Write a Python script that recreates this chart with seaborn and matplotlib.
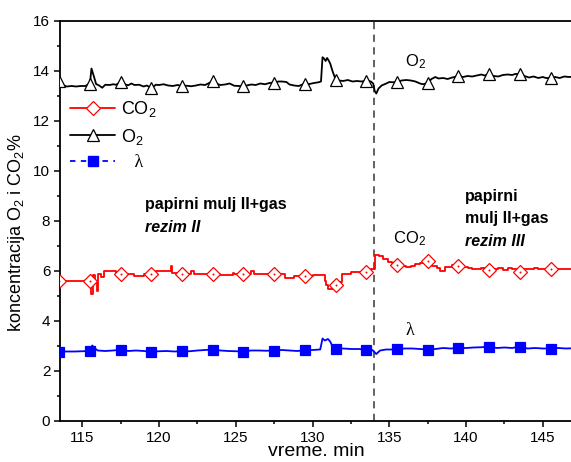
import matplotlib
matplotlib.use("Agg")
import matplotlib.pyplot as plt
from matplotlib.lines import Line2D
from matplotlib.ticker import MultipleLocator
import seaborn as sns

# Time axis (min) and measured concentrations
t_o2 = [113.5, 113.8, 114.0, 114.3, 114.6, 114.9, 115.2, 115.5, 115.6, 115.75,
        115.9, 116.1, 116.3, 116.5, 116.8, 117.0, 117.2, 117.5, 117.8, 118.0,
        118.2, 118.4, 118.7, 119.0, 119.2, 119.5, 119.8, 120.0, 120.3, 120.6,
        120.9, 121.2, 121.5, 121.8, 122.1, 122.4, 122.7, 123.0, 123.2, 123.5,
        123.8, 124.0, 124.3, 124.6, 124.9, 125.2, 125.5, 125.8, 126.0, 126.3,
        126.6, 126.9, 127.2, 127.5, 127.8, 128.0, 128.3, 128.5, 128.8, 129.1,
        129.5, 129.8, 130.1, 130.4, 130.55, 130.65, 130.75, 130.85, 130.95, 131.05,
        131.15, 131.3, 131.5, 131.7, 132.0, 132.3, 132.6, 132.9, 133.2, 133.5,
        133.8, 133.95, 134.05, 134.15, 134.3, 134.5, 134.8, 135.0, 135.2, 135.5,
        135.8, 136.1, 136.4, 136.7, 137.0, 137.2, 137.5, 137.75, 138.0, 138.2,
        138.5, 138.8, 139.1, 139.5, 139.8, 140.1, 140.4, 140.7, 141.0, 141.2,
        141.5, 141.8, 142.1, 142.4, 142.7, 143.0, 143.2, 143.5, 143.8, 144.1,
        144.4, 144.7, 145.0, 145.2, 145.5, 145.8, 146.1, 146.4, 146.7, 147.0]
o2 = [13.62, 13.42, 13.38, 13.40, 13.38, 13.40, 13.40, 13.50, 14.10, 13.80,
      13.48, 13.42, 13.33, 13.45, 13.44, 13.47, 13.45, 13.56, 13.46, 13.43,
      13.50, 13.44, 13.45, 13.38, 13.42, 13.32, 13.45, 13.44, 13.47, 13.42,
      13.40, 13.44, 13.40, 13.41, 13.39, 13.42, 13.46, 13.44, 13.50, 13.60,
      13.48, 13.44, 13.46, 13.50, 13.41, 13.40, 13.40, 13.43, 13.46, 13.44,
      13.50, 13.47, 13.52, 13.54, 13.58, 13.58, 13.56, 13.46, 13.42, 13.40,
      13.50, 13.48, 13.52, 13.55, 13.58, 14.55, 14.50, 14.40, 14.52, 14.42,
      14.30, 14.00, 13.66, 13.62, 13.60, 13.64, 13.58, 13.60, 13.58, 13.62,
      13.58, 13.50, 13.20, 13.10, 13.30, 13.42, 13.50, 13.56, 13.55, 13.56,
      13.62, 13.64, 13.62, 13.58, 13.50, 13.47, 13.52, 13.68, 13.76, 13.70,
      13.72, 13.68, 13.74, 13.80, 13.76, 13.80, 13.78, 13.82, 13.86, 13.82,
      13.88, 13.80, 13.78, 13.84, 13.86, 13.84, 13.88, 13.88, 13.80, 13.74,
      13.78, 13.72, 13.76, 13.72, 13.72, 13.76, 13.72, 13.78, 13.76, 13.77]

t_co2 = [113.5, 115.5, 115.6, 115.7, 115.8, 115.95, 116.05, 116.2, 116.4, 117.0,
         117.2, 117.5, 118.0, 118.4, 119.0, 119.5, 119.8, 120.7, 120.75, 120.85,
         121.5, 122.0, 122.1, 122.3, 123.0, 123.5, 124.0, 124.8, 124.9, 125.5,
         126.0, 126.2, 127.5, 128.2, 128.8, 129.5, 130.0, 130.7, 130.8, 130.9,
         131.0, 131.2, 131.5, 131.7, 131.9, 132.3, 132.5, 133.5, 133.8, 134.05,
         134.3, 134.6, 134.9, 135.2, 135.5, 135.8, 136.1, 136.4, 136.7, 137.0,
         137.5, 137.8, 138.1, 138.3, 138.6, 138.9, 139.1, 139.5, 139.8, 140.1,
         140.4, 140.7, 141.0, 141.5, 141.8, 142.1, 142.4, 142.7, 143.0, 143.5,
         143.8, 144.1, 144.4, 144.7, 145.0, 145.5, 146.0, 146.5, 147.0]
co2 = [5.60, 5.60, 5.10, 5.85, 5.55, 5.20, 5.90, 5.75, 6.00, 6.00,
       5.90, 5.90, 5.90, 5.82, 5.90, 5.90, 6.00, 6.00, 6.22, 5.92,
       5.90, 5.90, 6.00, 5.90, 5.90, 5.90, 5.83, 5.94, 5.90, 5.90,
       6.00, 5.90, 5.90, 5.72, 5.80, 5.82, 5.84, 5.84, 5.62, 5.45,
       5.30, 5.27, 5.44, 5.58, 5.88, 5.88, 5.97, 5.97, 6.08, 6.64,
       6.60, 6.50, 6.38, 6.33, 6.24, 6.20, 6.15, 6.22, 6.30, 6.33,
       6.40, 6.22, 6.12, 6.02, 6.15, 6.18, 6.24, 6.22, 6.18, 6.14,
       6.10, 6.10, 6.14, 6.06, 6.10, 6.12, 6.06, 6.14, 6.08, 5.95,
       6.10, 6.08, 6.12, 6.10, 6.10, 6.10, 6.10, 6.10, 6.10]

t_lam = [113.5, 114.5, 115.5, 115.65, 115.8, 116.0, 116.5, 117.0, 117.5, 118.0,
         118.5, 119.0, 119.5, 120.0, 120.5, 121.0, 121.5, 122.0, 122.5, 123.0,
         123.5, 124.0, 124.5, 125.0, 125.5, 126.0, 126.5, 127.0, 127.5, 128.0,
         128.5, 129.0, 129.5, 130.0, 130.5, 130.65, 130.8, 131.0, 131.15, 131.3,
         131.5, 132.0, 132.5, 133.0, 133.5, 133.9, 134.15, 134.4, 134.8, 135.2,
         135.5, 136.0, 136.5, 137.0, 137.5, 138.0, 138.5, 139.0, 139.5, 140.0,
         140.5, 141.0, 141.5, 142.0, 142.5, 143.0, 143.5, 144.0, 144.5, 145.0,
         145.5, 146.0, 146.5, 147.0]
lam = [2.78, 2.78, 2.80, 3.02, 2.92, 2.82, 2.80, 2.82, 2.85, 2.80,
       2.82, 2.80, 2.77, 2.79, 2.80, 2.78, 2.80, 2.79, 2.82, 2.84,
       2.86, 2.82, 2.80, 2.79, 2.78, 2.82, 2.82, 2.81, 2.82, 2.84,
       2.82, 2.80, 2.83, 2.84, 2.86, 3.30, 3.22, 3.28, 3.18, 2.98,
       2.90, 2.90, 2.88, 2.88, 2.86, 2.84, 2.68, 2.82, 2.86, 2.86,
       2.88, 2.90, 2.90, 2.88, 2.86, 2.88, 2.92, 2.90, 2.92, 2.92,
       2.94, 2.95, 2.98, 2.92, 2.94, 2.92, 2.98, 2.90, 2.92, 2.90,
       2.90, 2.92, 2.90, 2.91]

# Symbols are placed every 2 min on each trace
marker_times = [113.5, 115.5, 117.5, 119.5, 121.5, 123.5, 125.5, 127.5,
                129.5, 131.5, 133.5, 135.5, 137.5, 139.5, 141.5, 143.5, 145.5]
mode_switch = 134.0  # change from regime II to regime III

x_range = (113.55, 146.9)
y_range = (0, 16)


def marker_idx(times):
    keys = {round(m, 2) for m in marker_times}
    return [i for i, t in enumerate(times) if round(t, 2) in keys]


sns.set_style("ticks")
plt.rcParams["font.family"] = ["Liberation Sans", "DejaVu Sans"]
plt.rcParams["mathtext.fontset"] = "custom"
plt.rcParams["mathtext.rm"] = "Liberation Sans"
plt.rcParams["mathtext.it"] = "Liberation Sans:italic"
plt.rcParams["mathtext.bf"] = "Liberation Sans:bold"
for key in ("text.color", "axes.labelcolor", "xtick.color", "ytick.color",
            "axes.edgecolor"):
    plt.rcParams[key] = "black"

fig = plt.figure(figsize=(5.71, 4.62), dpi=100)
ax = fig.add_axes([60 / 571, 41 / 462, 512 / 571, 400 / 462])

sns.lineplot(x=t_o2, y=o2, ax=ax, color="black", lw=1.3, estimator=None,
             marker="^", markevery=marker_idx(t_o2), ms=9, mfc="white",
             mec="black", mew=0.9, zorder=3)
sns.lineplot(x=t_co2, y=co2, ax=ax, color="#ff0000", lw=1.3, estimator=None,
             drawstyle="steps-post", marker="D", markevery=marker_idx(t_co2),
             ms=7.5, mfc="white", mec="#ff0000", mew=0.9, zorder=3)
co2_marks = marker_idx(t_co2)
sns.scatterplot(x=[t_co2[i] for i in co2_marks], y=[co2[i] for i in co2_marks],
                ax=ax, color="#ff0000", s=2, linewidth=0, zorder=4)
sns.lineplot(x=t_lam, y=lam, ax=ax, color="#0000ff", lw=1.3, estimator=None,
             marker="s", markevery=marker_idx(t_lam), ms=6.5, mfc="#0000ff",
             mec="#0000ff", mew=0.9, zorder=3)

ax.axvline(mode_switch, color="#555555", lw=1.3, ls=(0, (4, 3)), zorder=2)

ax.set_xlim(*x_range)
ax.set_ylim(*y_range)
ax.xaxis.set_major_locator(MultipleLocator(5))
ax.xaxis.set_minor_locator(MultipleLocator(2.5))
ax.yaxis.set_major_locator(MultipleLocator(2))
ax.yaxis.set_minor_locator(MultipleLocator(1))
ax.tick_params(which="major", direction="out", length=4, width=1.1,
               labelsize=11, colors="black", pad=3)
ax.tick_params(which="minor", direction="out", length=2.5, width=1.1)
for side in ("left", "bottom", "top"):
    ax.spines[side].set_visible(True)
    ax.spines[side].set_color("black")
    ax.spines[side].set_linewidth(1.3)
ax.spines["right"].set_visible(False)

ax.set_xlabel("vreme. min", fontsize=14, labelpad=-1)
ax.set_ylabel("koncentracija O$_2$ i CO$_2$%", fontsize=13)
ax.yaxis.set_label_coords(-0.064, 0.47)

# Regime descriptions
ax.text(119.08, 8.64, "papirni mulj II+gas", fontsize=11.5, fontweight="bold",
        va="center", ha="left")
ax.text(119.08, 7.76, "rezim II", fontsize=11.5, fontweight="bold",
        style="italic", va="center", ha="left")
ax.text(139.93, 8.96, "papirni", fontsize=11.5, fontweight="bold",
        va="center", ha="left")
ax.text(139.93, 8.08, "mulj II+gas", fontsize=11.5, fontweight="bold",
        va="center", ha="left")
ax.text(139.93, 7.16, "rezim III", fontsize=11.5, fontweight="bold",
        style="italic", va="center", ha="left")

# Curve labels
ax.text(136.05, 14.36, "O$_2$", fontsize=12, va="center", ha="left")
ax.text(135.27, 7.28, "CO$_2$", fontsize=12, va="center", ha="left")
ax.text(136.05, 3.61, "λ", fontsize=13, va="center", ha="left",
        family=["Liberation Serif", "DejaVu Serif"])

handles = [
    Line2D([], [], color="#ff0000", lw=1.3, marker="D", ms=7.5, mfc="white",
           mec="#ff0000", mew=0.9),
    Line2D([], [], color="black", lw=1.3, marker="^", ms=9, mfc="white",
           mec="black", mew=0.9),
    Line2D([], [], color="#0000ff", lw=1.3, ls=(0, (3, 3)), marker="s", ms=6.5,
           mfc="#0000ff", mec="#0000ff"),
]
leg = ax.legend(handles, ["CO$_2$", "O$_2$", "   λ"], loc="upper left",
                bbox_to_anchor=(0.02, 0.805), frameon=False, fontsize=13,
                handlelength=2.5, handletextpad=0.3, labelspacing=0.42,
                borderpad=0, borderaxespad=0)
leg.get_texts()[2].set_fontfamily(["Liberation Serif", "DejaVu Serif"])

fig.savefig("out.png", dpi=100)
